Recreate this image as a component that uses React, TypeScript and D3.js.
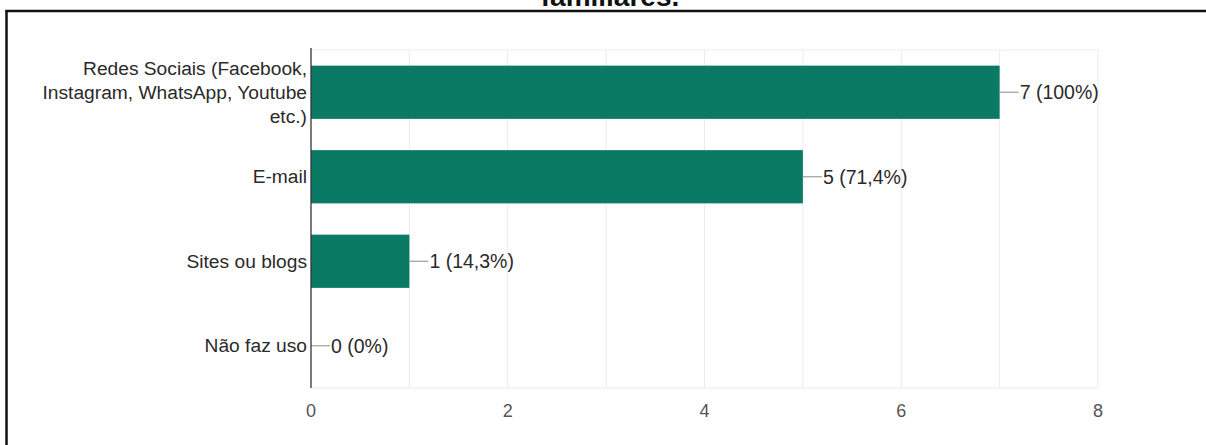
import React from "react";
import * as d3 from "d3";

const categories: string[][] = [
  ["Redes Sociais (Facebook,", "Instagram, WhatsApp, Youtube", "etc.)"],
  ["E-mail"],
  ["Sites ou blogs"],
  ["Não faz uso"],
];
const values: number[] = [7, 5, 1, 0];
const valueLabels: string[] = ["7 (100%)", "5 (71,4%)", "1 (14,3%)", "0 (0%)"];
const xTicks: number[] = [0, 2, 4, 6, 8];
const gridTicks: number[] = [1, 2, 3, 4, 5, 6, 7, 8];
const title = "familiares.";

const W = 1206;
const H = 445;
const FONT = '"Liberation Sans", Arial, sans-serif';

export default function App() {
  const x = d3.scaleLinear().domain([0, 8]).range([311, 1098]);
  const keys = categories.map((_, i) => String(i));
  const y = d3
    .scaleBand<string>()
    .domain(keys)
    .range([50, 388])
    .paddingInner(0.37)
    .paddingOuter(0.185);
  const bw = y.bandwidth();
  const [y0, y1] = y.range();

  return (
    <svg
      width={W}
      height={H}
      style={{ position: "absolute", left: 0, top: 0, background: "#fff" }}
      fontFamily={FONT}
    >
      <rect x={0} y={0} width={W} height={H} fill="#fff" />
      {/* title, cut off at the top as in the source image */}
      <text x={610} y={6} textAnchor="middle" fontSize={28} fontWeight="bold" fill="#111">
        {title}
      </text>
      {/* border */}
      <line x1={5.5} x2={W} y1={11} y2={11} stroke="#111" strokeWidth={2.5} />
      <line x1={6.5} x2={6.5} y1={10} y2={H} stroke="#111" strokeWidth={2.5} />

      {/* grid */}
      {gridTicks.map((t) => (
        <line key={t} x1={x(t)} x2={x(t)} y1={y0} y2={y1} stroke="#ebebeb" strokeWidth={1} />
      ))}
      <line x1={x(0)} x2={x(8)} y1={y0} y2={y0} stroke="#ebebeb" strokeWidth={1} />
      <line x1={x(0)} x2={x(8)} y1={y1} y2={y1} stroke="#ebebeb" strokeWidth={1} />

      {/* bars */}
      {values.map((v, i) => {
        const by = y(String(i))!;
        const cy = by + bw / 2;
        const ex = x(v);
        return (
          <g key={i}>
            {v > 0 && <rect x={x(0)} y={by} width={ex - x(0)} height={bw} fill="#0a7a65" />}
            <line x1={ex} x2={ex + 19} y1={cy} y2={cy} stroke="#9e9e9e" strokeWidth={1.2} />
            <text x={ex + 20} y={cy} dy="0.35em" fontSize={19.5} fill="#2a2a2a">
              {valueLabels[i]}
            </text>
          </g>
        );
      })}

      {/* axis line */}
      <line x1={x(0)} x2={x(0)} y1={y0 - 2} y2={y1} stroke="#333" strokeWidth={1.3} />

      {/* y labels */}
      {categories.map((lines, i) => {
        const cy = y(String(i))! + bw / 2;
        const lh = 24;
        const start = cy - ((lines.length - 1) * lh) / 2;
        return (
          <text key={i} textAnchor="end" fontSize={19.2} fill="#2a2a2a">
            {lines.map((l, j) => (
              <tspan key={j} x={307} y={start + j * lh} dy="0.35em">
                {l}
              </tspan>
            ))}
          </text>
        );
      })}

      {/* x tick labels */}
      {xTicks.map((t) => (
        <text key={t} x={x(t)} y={411} dy="0.35em" textAnchor="middle" fontSize={18} fill="#555">
          {t}
        </text>
      ))}
    </svg>
  );
}
